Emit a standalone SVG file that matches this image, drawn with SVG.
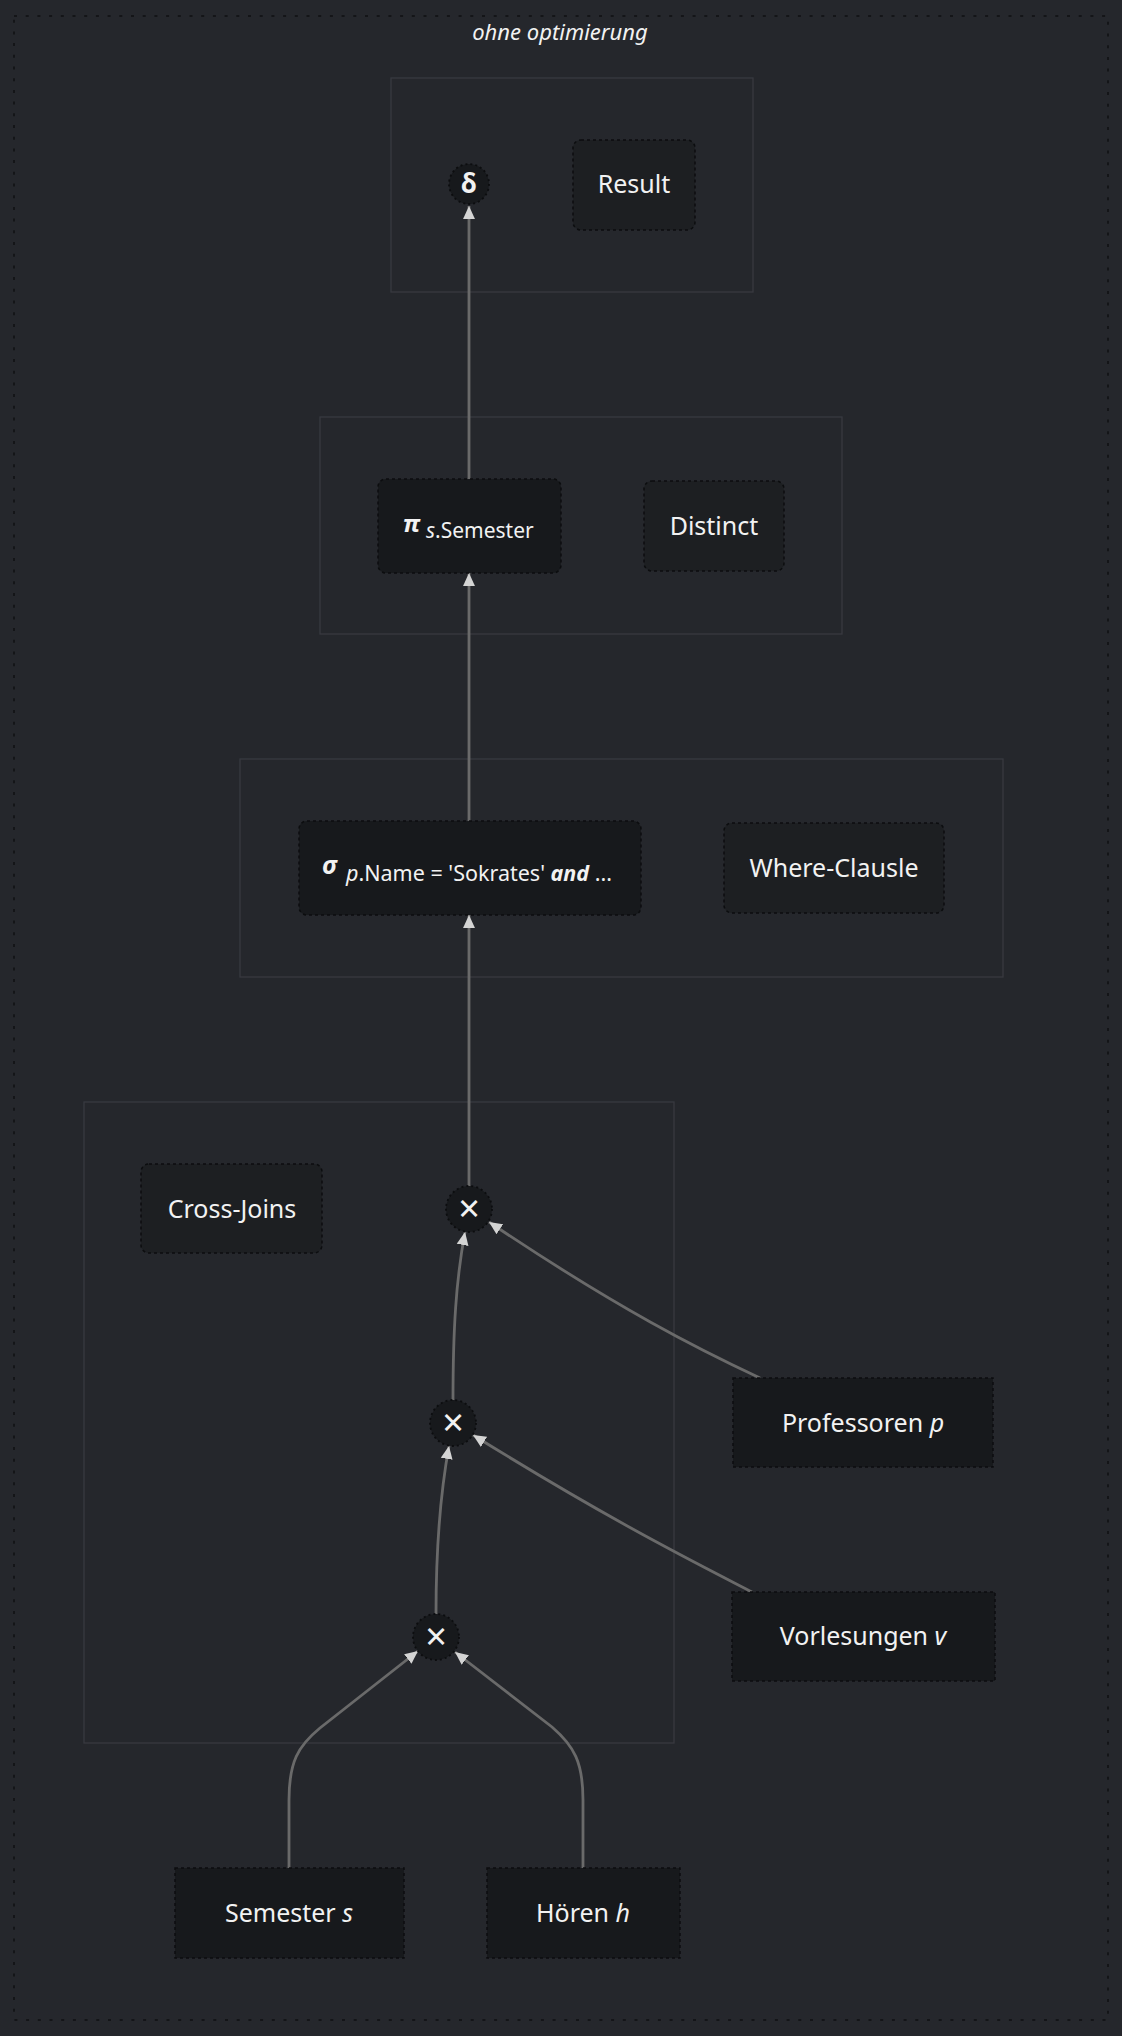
<svg xmlns="http://www.w3.org/2000/svg" width="1122" height="2036" viewBox="0 0 1122 2036">
<defs>
<style>
.t{font-family:"Noto Sans","Open Sans",sans-serif;fill:#f2f2f2}
.lbl{font-size:25px;text-anchor:middle}
.cl{fill:none;stroke:#383a40;stroke-width:1.3}
.op{fill:#17191c;stroke:#0c0d0f;stroke-width:1.5;stroke-dasharray:3 3}
.nt{fill:#1d1f22;stroke:#0c0d0f;stroke-width:1.5;stroke-dasharray:3 3}
.rel{fill:#17191c;stroke:#0c0d0f;stroke-width:1.5;stroke-dasharray:3 3}
.ci{fill:#17191c;stroke:#0c0d0f;stroke-width:1.8;stroke-dasharray:2 3}
.e{fill:none;stroke:#6a6a6a;stroke-width:2.8;marker-end:url(#ah)}
</style>
<marker id="ah" viewBox="0 0 12 12" refX="12" refY="6" markerWidth="13" markerHeight="13" markerUnits="userSpaceOnUse" orient="auto">
<path d="M0,0.5 L12,6 L0,11.5 Z" fill="#d4d4d4"/>
</marker>
</defs>
<rect x="0" y="0" width="1122" height="2036" fill="#25272c"/>
<rect x="14" y="16" width="1094" height="2004" fill="none" stroke="#0f1012" stroke-width="1.5" stroke-dasharray="3 8.7"/>
<text class="t" x="560" y="40" font-size="22" font-style="italic" text-anchor="middle">ohne optimierung</text>

<g id="clusters">
<rect class="cl" x="391" y="78" width="362" height="214"/>
<rect class="cl" x="320" y="417" width="522" height="217"/>
<rect class="cl" x="240" y="759" width="763" height="218"/>
<rect class="cl" x="84" y="1102" width="590" height="641"/>
</g>

<g id="edges">
<path class="e" d="M469,479 L469,206"/>
<path class="e" d="M469,821 L469,573"/>
<path class="e" d="M469,1186 L469,915"/>
<path class="e" d="M453,1400 C453,1330 456,1280 465,1232"/>
<path class="e" d="M760,1378 C700,1350 620,1310 489,1222"/>
<path class="e" d="M436,1614 C436,1545 440,1495 449,1446"/>
<path class="e" d="M752,1592 C690,1560 610,1520 473,1435"/>
<path class="e" d="M289,1868 L289,1800 C289,1762 298,1746 320,1728 L418,1651"/>
<path class="e" d="M583,1868 L583,1800 C583,1762 574,1746 552,1727 L455,1652"/>
</g>

<g id="delta"><circle class="ci" cx="469" cy="184" r="20"/><text class="t" x="469" y="193" font-size="26" font-weight="bold" text-anchor="middle">δ</text></g>
<g id="result"><rect class="nt" x="573" y="140" width="122" height="90" rx="8"/><text class="t lbl" x="634" y="193">Result</text></g>

<g id="pi"><rect class="op" x="378" y="479" width="183" height="94" rx="8"/><text class="t" x="403" y="532" font-size="24" font-weight="bold" font-style="italic">π<tspan x="426" y="538" font-size="21" font-weight="normal" font-style="italic">s</tspan><tspan font-size="21" font-weight="normal" font-style="normal">.Semester</tspan></text></g>
<g id="distinct"><rect class="nt" x="644" y="481" width="140" height="90" rx="8"/><text class="t lbl" x="714" y="535">Distinct</text></g>

<g id="sigma"><rect class="op" x="299" y="821" width="342" height="94" rx="8"/><text class="t" x="322" y="874" font-size="25" font-weight="bold" font-style="italic">σ<tspan x="346" y="881" font-size="21.5" font-weight="normal" font-style="italic">p</tspan><tspan font-size="21.5" font-weight="normal" font-style="normal">.Name = 'Sokrates' </tspan><tspan font-size="21.5" font-weight="bold" font-style="italic">and</tspan><tspan font-size="21.5" font-weight="normal" font-style="normal"> ...</tspan></text></g>
<g id="where"><rect class="nt" x="724" y="823" width="220" height="90" rx="8"/><text class="t lbl" x="834" y="877">Where-Clausle</text></g>

<g id="crossjoins"><rect class="nt" x="141" y="1164" width="181" height="89" rx="8"/><text class="t lbl" x="232" y="1218">Cross-Joins</text></g>
<g id="x1"><circle class="ci" cx="469" cy="1209" r="23"/><text class="t" x="469" y="1222" font-size="38" text-anchor="middle">×</text></g>
<g id="x2"><circle class="ci" cx="453" cy="1423" r="23"/><text class="t" x="453" y="1436" font-size="38" text-anchor="middle">×</text></g>
<g id="x3"><circle class="ci" cx="436" cy="1637" r="23"/><text class="t" x="436" y="1650" font-size="38" text-anchor="middle">×</text></g>

<g id="professoren"><rect class="rel" x="733" y="1378" width="260" height="89"/><text class="t lbl" x="863" y="1432">Professoren <tspan font-style="italic">p</tspan></text></g>
<g id="vorlesungen"><rect class="rel" x="732" y="1592" width="263" height="89"/><text class="t lbl" x="863" y="1645">Vorlesungen <tspan font-style="italic">v</tspan></text></g>
<g id="semester"><rect class="rel" x="175" y="1868" width="229" height="90"/><text class="t lbl" x="289" y="1922">Semester <tspan font-style="italic">s</tspan></text></g>
<g id="hoeren"><rect class="rel" x="487" y="1868" width="193" height="90"/><text class="t lbl" x="583" y="1922">Hören <tspan font-style="italic">h</tspan></text></g>
</svg>
